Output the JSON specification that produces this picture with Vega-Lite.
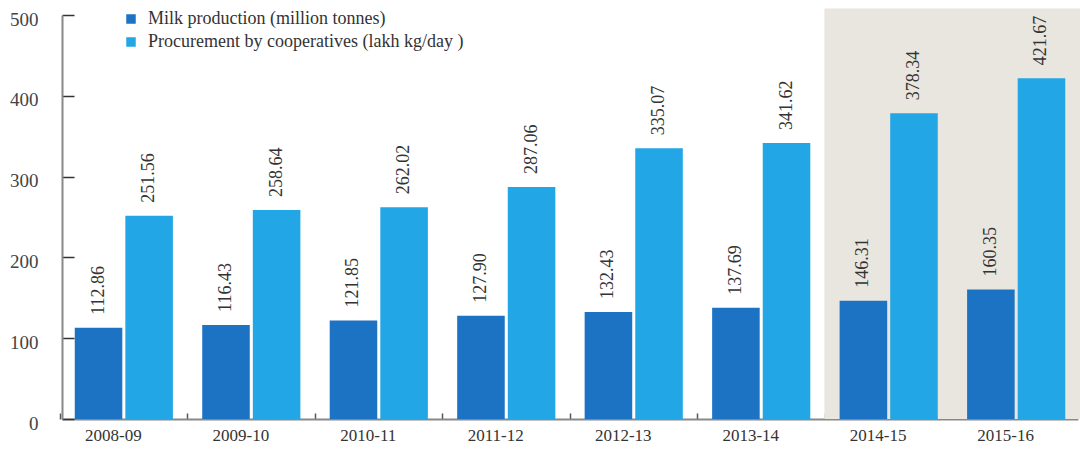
{
  "$schema": "https://vega.github.io/schema/vega-lite/v6.json",
  "width": 1016,
  "height": 404,
  "autosize": "none",
  "padding": {"left": 62, "top": 15, "right": 2, "bottom": 33},
  "background": "white",
  "config": {"view": {"stroke": null}, "font": "Liberation Serif"},
  "datasets": {
    "milk": [
      {"year": "2008-09", "series": "Milk production (million tonnes)", "value": 112.86},
      {"year": "2008-09", "series": "Procurement by cooperatives (lakh kg/day )", "value": 251.56},
      {"year": "2009-10", "series": "Milk production (million tonnes)", "value": 116.43},
      {"year": "2009-10", "series": "Procurement by cooperatives (lakh kg/day )", "value": 258.64},
      {"year": "2010-11", "series": "Milk production (million tonnes)", "value": 121.85},
      {"year": "2010-11", "series": "Procurement by cooperatives (lakh kg/day )", "value": 262.02},
      {"year": "2011-12", "series": "Milk production (million tonnes)", "value": 127.90},
      {"year": "2011-12", "series": "Procurement by cooperatives (lakh kg/day )", "value": 287.06},
      {"year": "2012-13", "series": "Milk production (million tonnes)", "value": 132.43},
      {"year": "2012-13", "series": "Procurement by cooperatives (lakh kg/day )", "value": 335.07},
      {"year": "2013-14", "series": "Milk production (million tonnes)", "value": 137.69},
      {"year": "2013-14", "series": "Procurement by cooperatives (lakh kg/day )", "value": 341.62},
      {"year": "2014-15", "series": "Milk production (million tonnes)", "value": 146.31},
      {"year": "2014-15", "series": "Procurement by cooperatives (lakh kg/day )", "value": 378.34},
      {"year": "2015-16", "series": "Milk production (million tonnes)", "value": 160.35},
      {"year": "2015-16", "series": "Procurement by cooperatives (lakh kg/day )", "value": 421.67}
    ],
    "shade": [{"year": "2014-15"}, {"year": "2015-16"}]
  },
  "layer": [
    {
      "data": {"name": "shade"},
      "mark": {"type": "bar", "color": "#e9e6df", "width": {"band": 1.31}},
      "encoding": {
        "x": {"field": "year", "type": "nominal"},
        "y": {"datum": 508, "type": "quantitative"},
        "y2": {"datum": 0}
      }
    },
    {
      "data": {"name": "milk"},
      "mark": {"type": "bar"},
      "encoding": {
        "x": {
          "field": "year", "type": "nominal", "sort": null,
          "scale": {"paddingInner": 0.23, "paddingOuter": 0.1},
          "axis": {
            "title": null, "labelAngle": 0, "labelAlign": "center", "labelFontSize": 17, "labelColor": "#333",
            "labelOffset": 53, "labelPadding": 22,
            "domainColor": "#888", "domainWidth": 2,
            "tickOffset": -64, "tickSize": -6, "tickColor": "#555", "tickWidth": 1.5
          }
        },
        "xOffset": {"field": "series", "type": "nominal", "scale": {"paddingInner": 0.06}},
        "y": {
          "field": "value", "type": "quantitative",
          "scale": {"domain": [0, 500], "nice": false},
          "axis": {
            "title": null, "values": [0, 100, 200, 300, 400, 500], "grid": false,
            "labelFontSize": 19, "labelColor": "#444", "labelPadding": 36, "labelOffset": 4,
            "domainColor": "#888", "domainWidth": 2,
            "tickSize": -12, "tickColor": "#333", "tickWidth": 1.5
          }
        },
        "color": {
          "field": "series", "type": "nominal",
          "scale": {"domain": ["Milk production (million tonnes)", "Procurement by cooperatives (lakh kg/day )"], "range": ["#1c73c4", "#22a6e6"]},
          "legend": {
            "title": null, "orient": "none", "legendX": 60, "legendY": -5,
            "symbolType": "square", "symbolSize": 90, "symbolStrokeWidth": 0,
            "labelFontSize": 18, "labelColor": "#333", "labelFont": "Liberation Serif",
            "rowPadding": 5, "labelOffset": 8, "labelLimit": 600
          }
        }
      }
    },
    {
      "data": {"name": "milk"},
      "mark": {"type": "text", "angle": 270, "align": "left", "baseline": "middle", "dx": 13, "fontSize": 18, "color": "#333", "font": "Liberation Serif"},
      "encoding": {
        "x": {"field": "year", "type": "nominal", "sort": null},
        "xOffset": {"field": "series", "type": "nominal"},
        "y": {"field": "value", "type": "quantitative"},
        "text": {"field": "value", "type": "quantitative", "format": ".2f"}
      }
    }
  ]
}
